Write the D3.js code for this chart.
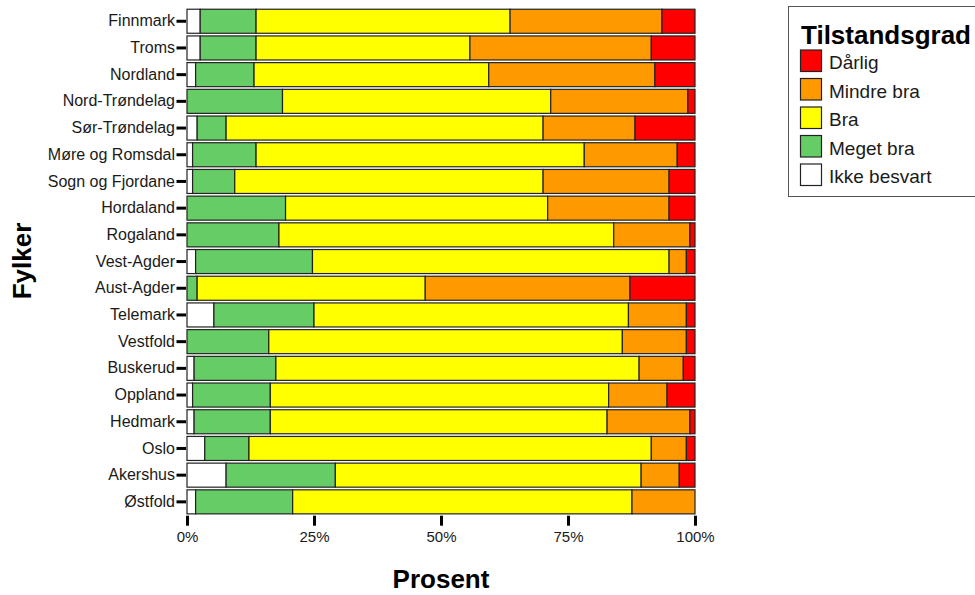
<!DOCTYPE html>
<html><head><meta charset="utf-8">
<script src="https://cdn.jsdelivr.net/npm/d3@7"></script>
<style>body{margin:0;background:#fff}svg{display:block;font-family:"Liberation Sans",Arial,sans-serif}</style>
</head><body><svg id="c" width="975" height="595"></svg>
<script>
const counties = ["Finnmark","Troms","Nordland","Nord-Trøndelag","Sør-Trøndelag","Møre og Romsdal","Sogn og Fjordane","Hordaland","Rogaland","Vest-Agder","Aust-Agder","Telemark","Vestfold","Buskerud","Oppland","Hedmark","Oslo","Akershus","Østfold"];
const categories = ["Ikke besvart","Meget bra","Bra","Mindre bra","Dårlig"];
const colors = ["#ffffff","#66cc66","#ffff00","#ff9900","#ff0000"];
const ikkeBesvart = [2.6,2.6,1.7,0,2.0,1.1,1.1,0,0,1.7,0,5.3,0,1.4,1.1,1.4,3.5,7.7,1.7];
const megetBra   = [11.0,11.0,11.5,18.8,5.7,12.5,8.3,19.4,18.1,23.0,2.0,19.7,16.1,16.1,15.3,15.0,8.7,21.5,19.1];
const bra        = [50.0,42.1,46.2,52.8,62.4,64.6,60.7,51.6,65.9,70.2,44.9,61.9,69.6,71.5,66.6,66.3,79.2,60.2,66.8];
const mindreBra  = [29.9,35.7,32.7,27.0,18.1,18.3,24.8,23.9,15.0,3.4,40.3,11.4,12.6,8.7,11.5,16.3,6.9,7.5,12.4];
const darlig     = [6.5,8.6,7.9,1.4,11.8,3.5,5.1,5.1,1.0,1.7,12.8,1.7,1.7,2.3,5.5,1.0,1.7,3.1,0];
const xTicks = [0,25,50,75,100];
const legendOrder = ["Dårlig","Mindre bra","Bra","Meget bra","Ikke besvart"];

const seriesVals = [ikkeBesvart, megetBra, bra, mindreBra, darlig];
const rows = counties.map((c,i)=>{const o={county:c}; categories.forEach((k,j)=>o[k]=seriesVals[j][i]); return o;});
rows.forEach(r=>{const s=d3.sum(categories,k=>r[k]); categories.forEach(k=>r[k]=r[k]/s*100);});
const stack = d3.stack().keys(categories)(rows);
const color = d3.scaleOrdinal().domain(categories).range(colors);

const svg = d3.select("#c");
const m = {left:187, right:695, top:7.9, bottom:515.2};
const x = d3.scaleLinear().domain([0,100]).range([m.left,m.right]);
const y = d3.scaleBand().domain(counties).range([m.top,m.bottom]).paddingInner(0.1).paddingOuter(0.05);

svg.append("g").selectAll("g").data(stack).join("g")
  .attr("fill",d=>color(d.key))
  .selectAll("rect").data(d=>d).join("rect")
  .attr("x",d=>x(d[0])).attr("width",d=>Math.max(0,x(d[1])-x(d[0])))
  .attr("y",d=>y(d.data.county)).attr("height",y.bandwidth())
  .attr("stroke","#222").attr("stroke-width",1.2);

const yAxis = svg.append("g").attr("transform",`translate(${m.left-1},0)`)
  .call(d3.axisLeft(y).tickSize(9.5).tickPadding(1.5));
yAxis.select(".domain").remove();
yAxis.selectAll(".tick line").attr("stroke","#000").attr("stroke-width",3);
yAxis.selectAll("text").attr("font-size",16).attr("fill","#1a1a1a").attr("font-family","Liberation Sans, Arial, sans-serif");

const xAxis = svg.append("g").attr("transform",`translate(0,${m.bottom+0.5})`)
  .call(d3.axisBottom(x).tickValues(xTicks).tickFormat(d=>d+"%").tickSize(10).tickPadding(6));
xAxis.select(".domain").remove();
xAxis.selectAll(".tick line").attr("stroke","#000").attr("stroke-width",3);
xAxis.selectAll("text").attr("font-size",15).attr("fill","#1a1a1a").attr("font-family","Liberation Sans, Arial, sans-serif");

svg.append("text").attr("x",441).attr("y",588).attr("text-anchor","middle")
  .attr("font-size",26).attr("font-weight","bold").attr("fill","#000").text("Prosent");
svg.append("text").attr("transform","translate(31,261) rotate(-90)").attr("text-anchor","middle")
  .attr("font-size",26).attr("font-weight","bold").attr("fill","#000").text("Fylker");

const lg = svg.append("g");
lg.append("rect").attr("x",788.5).attr("y",6.5).attr("width",210).attr("height",190)
  .attr("fill","#fff").attr("stroke","#555").attr("stroke-width",1);
lg.append("text").attr("x",801).attr("y",44).attr("font-size",26).attr("font-weight","bold").attr("fill","#000").text("Tilstandsgrad");
legendOrder.forEach((k,i)=>{
  const yy = 50 + i*28.5;
  lg.append("rect").attr("x",800.5).attr("y",yy).attr("width",21).attr("height",21.5)
    .attr("fill",color(k)).attr("stroke","#222").attr("stroke-width",1.2);
  lg.append("text").attr("x",829).attr("y",yy+19).attr("font-size",19).attr("fill","#1a1a1a").text(k);
});
</script></body></html>
